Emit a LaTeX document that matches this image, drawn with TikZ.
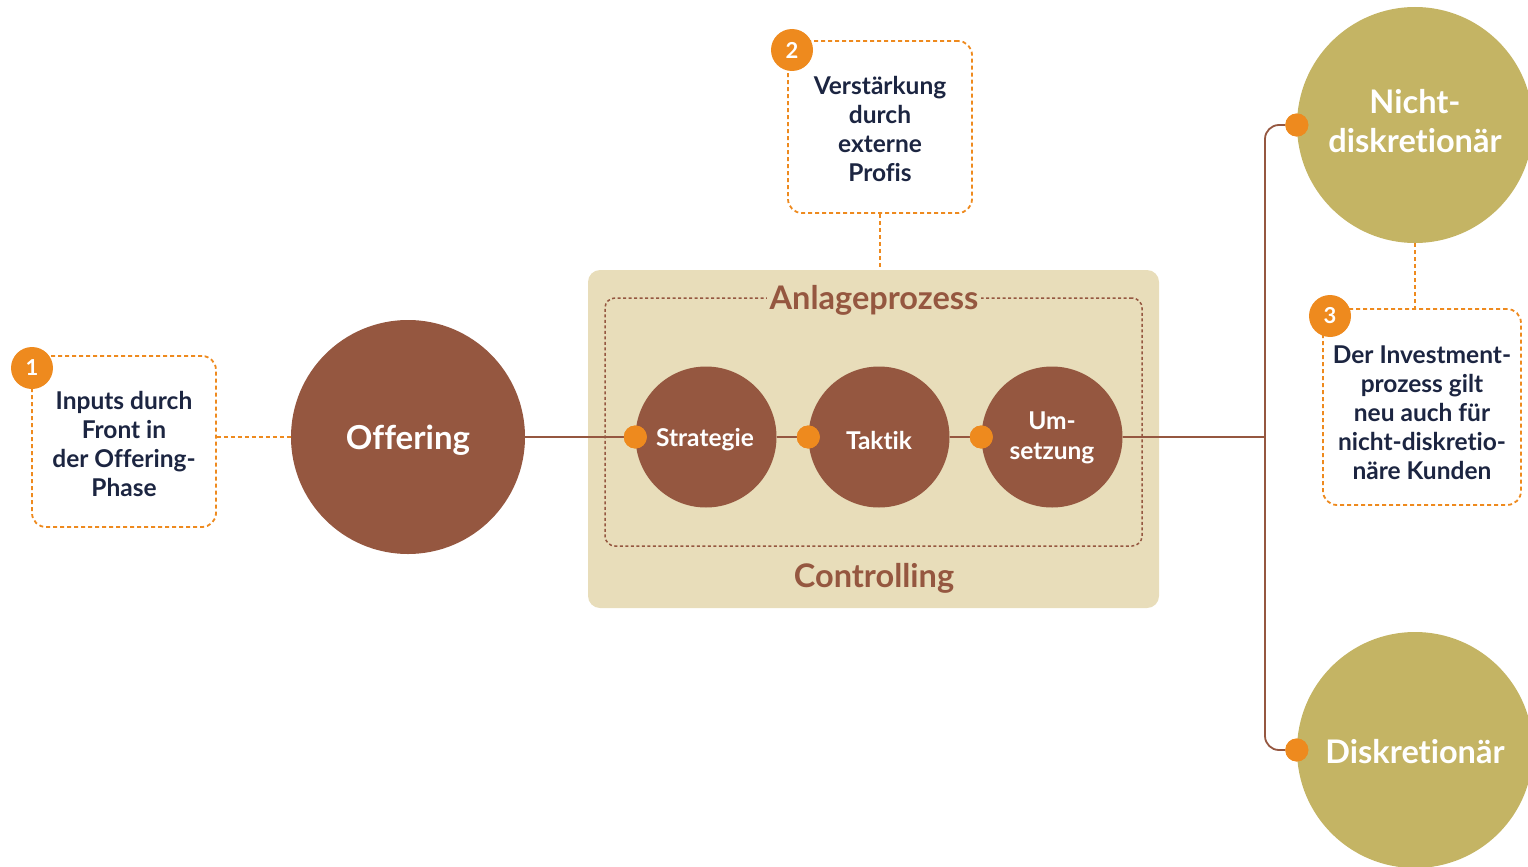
\documentclass[tikz,border=0pt]{standalone}
\usepackage{fontspec}
\setmainfont{Lato}[Ligatures=NoCommon]
\definecolor{brownc}{HTML}{955740}
\definecolor{orangec}{HTML}{EE8A1E}
\definecolor{navyc}{HTML}{1C2541}
\definecolor{beigec}{HTML}{E8DDBA}
\definecolor{olivec}{HTML}{C4B464}
\tikzset{
  notebox/.style={draw=orangec, line width=1.8pt, dash pattern=on 4pt off 3pt, rounded corners=14pt, inner sep=0pt},
  notetext/.style={text=navyc, align=center, font=\fontsize{24.5}{29}\selectfont\bfseries, inner sep=0pt},
  badge/.style={circle, fill=orangec, text=white, minimum size=42pt, inner sep=0pt, font=\fontsize{22}{22}\selectfont\bfseries},
  orangedash/.style={draw=orangec, line width=1.8pt, dash pattern=on 4pt off 3pt},
  bigblob/.style={circle, fill=brownc, minimum size=234pt, inner sep=0pt},
  bigtext/.style={text=white, inner sep=0pt, font=\fontsize{33}{36}\selectfont\bfseries},
  smallblob/.style={circle, fill=brownc, minimum size=141pt, inner sep=0pt},
  smalltext/.style={text=white, inner sep=0pt, align=center, font=\fontsize{24.5}{30}\selectfont\bfseries},
  oliveblob/.style={circle, fill=olivec, minimum size=236pt, inner sep=0pt},
  olivetext/.style={text=white, inner sep=0pt, align=center, font=\fontsize{32.5}{39}\selectfont\bfseries},
  dot/.style={circle, fill=orangec, minimum size=23pt, inner sep=0pt},
  conn/.style={draw=brownc, line width=1.8pt},
  bigtitle/.style={text=brownc, font=\fontsize{32.5}{34}\selectfont\bfseries, inner sep=3pt},
}
\begin{document}
\begin{tikzpicture}[x=1pt,y=-1pt]
\useasboundingbox (0,0) rectangle (1528,867);
% beige process box
\node[fill=beigec, rounded corners=12pt, minimum width=571pt, minimum height=338pt, inner sep=0pt] (proc) at (873.5,439) {};
\node[draw=brownc, line width=1.5pt, dash pattern=on 3pt off 2.5pt, rounded corners=10pt, minimum width=537pt, minimum height=248pt, inner sep=0pt] (inner) at (873.5,422) {};
\node[bigtitle, fill=beigec] (anl) at (874,300) {Anlageprozess};
\node[bigtitle] (ctrl) at (874,578) {Controlling};
% note boxes
\node[notebox, minimum width=184pt, minimum height=171pt] (b1) at (124,441.5) {};
\node[notetext] (t1) at (124,444) {Inputs durch\\Front in\\der Offering-\\Phase};
\node[badge] (n1) at (32,368) {1};
\node[notebox, minimum width=184pt, minimum height=172pt] (b2) at (880,127) {};
\node[notetext] (t2) at (880,129) {Verstärkung\\durch\\externe\\Profis};
\node[badge] (n2) at (792,50) {2};
\node[notebox, minimum width=198pt, minimum height=196pt] (b3) at (1422,407) {};
\node[notetext] (t3) at (1422,413) {Der Investment-\\prozess gilt\\neu auch für\\nicht-diskretio-\\näre Kunden};
\node[badge] (n3) at (1330,316) {3};
% main circles
\node[bigblob] (off) at (408,437) {};
\node[bigtext] (offt) at (408,440) {Offering};
\node[smallblob] (str) at (706,437) {};
\node[smalltext] (strt) at (705,440) {Strategie};
\node[smallblob] (tak) at (879,437) {};
\node[smalltext] (takt) at (879,440) {Taktik};
\node[smallblob] (ums) at (1052,437) {};
\node[smalltext] (umst) at (1052,438) {Um-\\setzung};
\node[oliveblob] (nd) at (1415,125) {};
\node[olivetext] (ndt) at (1415,121) {Nicht-\\diskretionär};
\node[oliveblob] (dk) at (1415,750) {};
\node[olivetext] (dkt) at (1415,752) {Diskretionär};
% connectors
\coordinate (jn) at (1265,437);
\draw[orangedash] (off.west -| b1.east) -- (off.west);
\draw[orangedash] (b2.south) -- (b2.south |- proc.north);
\draw[orangedash] (nd.south) -- (nd.south |- b3.north);
\node[dot] (d1) at (str.west) {};
\node[dot] (d2) at (tak.west) {};
\node[dot] (d3) at (ums.west) {};
\node[dot] (d4) at (nd.west) {};
\node[dot] (d5) at (dk.west) {};
\draw[conn] (off.east) -- (d1.west);
\draw[conn] (str.east) -- (d2.west);
\draw[conn] (tak.east) -- (d3.west);
\draw[conn] (ums.east) -- (jn);
\draw[conn, rounded corners=14pt] (d4.west) -| (jn) |- (d5.west);
\node[dot] at (d1) {};
\node[dot] at (d2) {};
\node[dot] at (d3) {};
\node[dot] at (d4) {};
\node[dot] at (d5) {};
\end{tikzpicture}
\end{document}
